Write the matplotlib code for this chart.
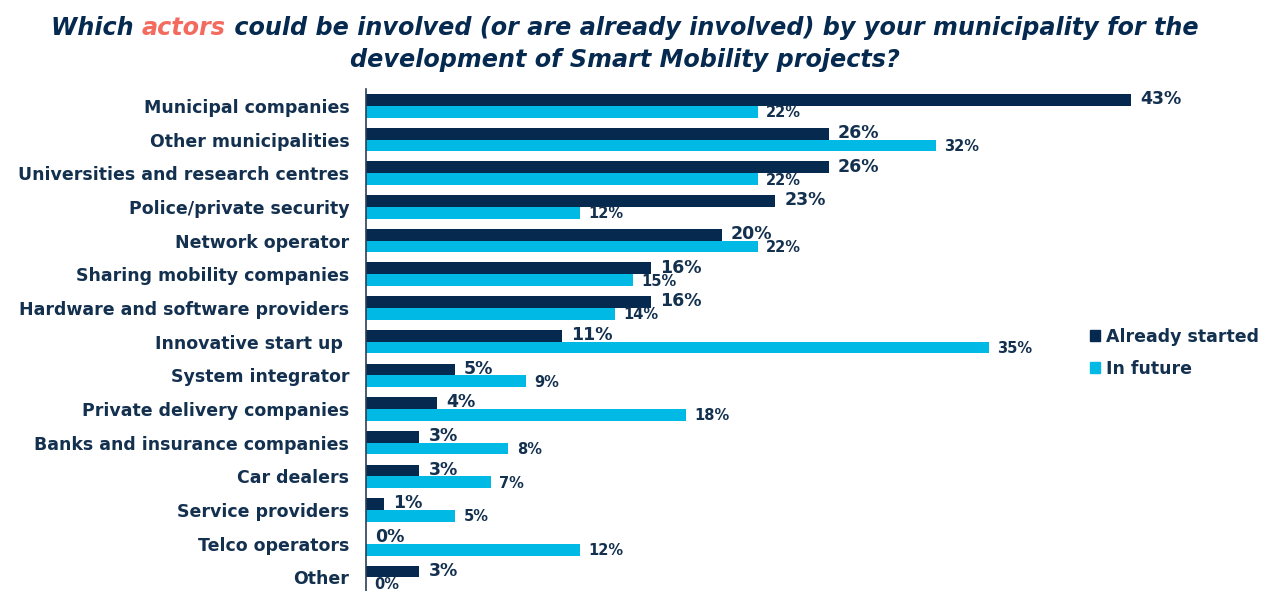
import matplotlib.pyplot as plt
from matplotlib.patches import Patch

categories = ["Municipal companies", "Other municipalities", "Universities and research centres",
              "Police/private security", "Network operator", "Sharing mobility companies",
              "Hardware and software providers", "Innovative start up ", "System integrator",
              "Private delivery companies", "Banks and insurance companies", "Car dealers",
              "Service providers", "Telco operators", "Other"]
already_started = [43, 26, 26, 23, 20, 16, 16, 11, 5, 4, 3, 3, 1, 0, 3]
in_future = [22, 32, 22, 12, 22, 15, 14, 35, 9, 18, 8, 7, 5, 12, 0]

NAVY = "#05294f"
CYAN = "#00b9e4"
TEXT = "#13304f"
SALMON = "#f26b5e"
FONT = "DejaVu Sans"

plt.rcParams['font.family'] = [FONT]

fig = plt.figure(figsize=(12.63, 5.91), dpi=100)
W, H = 1263, 591
ax = fig.add_axes([366 / W, -10 / H, 890 / W, 512 / H])

y = list(range(len(categories)))
h = 0.35
ax.barh([i - h / 2 for i in y], already_started, height=h, color=NAVY)
ax.barh([i + h / 2 for i in y], in_future, height=h, color=CYAN)

for i, (a, f) in enumerate(zip(already_started, in_future)):
    ax.annotate(f"{a}%", (a, i - h / 2 - 0.02), xytext=(6.5, 0), textcoords='offset points',
                va='center', ha='left', fontsize=12.5, fontweight='bold', color=TEXT)
    ax.annotate(f"{f}%", (f, i + h / 2 + 0.03), xytext=(6, 0), textcoords='offset points',
                va='center', ha='left', fontsize=10.5, fontweight='bold', color=TEXT)

ax.set_xlim(0, 50)
ax.set_ylim(14.7, -0.5)
ax.set_yticks(y)
ax.set_yticklabels(categories, fontsize=12.5, fontweight='bold', color=TEXT)
ax.tick_params(axis='y', length=0, pad=12)
ax.set_xticks([])
for side in ['top', 'right', 'bottom']:
    ax.spines[side].set_visible(False)
ax.spines['left'].set_color("#2b3f57")
ax.spines['left'].set_linewidth(1.2)

handles = [Patch(color=NAVY, label="Already started"), Patch(color=CYAN, label="In future")]
leg = fig.legend(handles=handles, loc='upper left', bbox_to_anchor=(1074 / W, 1 - 312 / H),
                 frameon=False, handlelength=0.6, handleheight=0.6, handletextpad=0.35,
                 labelspacing=0.8, prop={'family': FONT, 'weight': 'bold', 'size': 12.5})
for t in leg.get_texts():
    t.set_color(TEXT)

# two-line title with one highlighted word
renderer = fig.canvas.get_renderer()
title_style = dict(fontsize=17.2, fontweight='bold', fontstyle='italic', va='center')


def draw_line(parts, y_px):
    texts = [fig.text(0, 0, s, color=c, **title_style) for s, c in parts]
    widths = [t.get_window_extent(renderer).width for t in texts]
    x = (W - sum(widths)) / 2 - 7
    for t, w in zip(texts, widths):
        t.set_position((x / W, 1 - y_px / H))
        x += w


draw_line([("Which ", NAVY), ("actors", SALMON),
           (" could be involved (or are already involved) by your municipality for the", NAVY)], 28)
draw_line([("development of Smart Mobility projects?", NAVY)], 60)

fig.savefig("out.png", dpi=100)
